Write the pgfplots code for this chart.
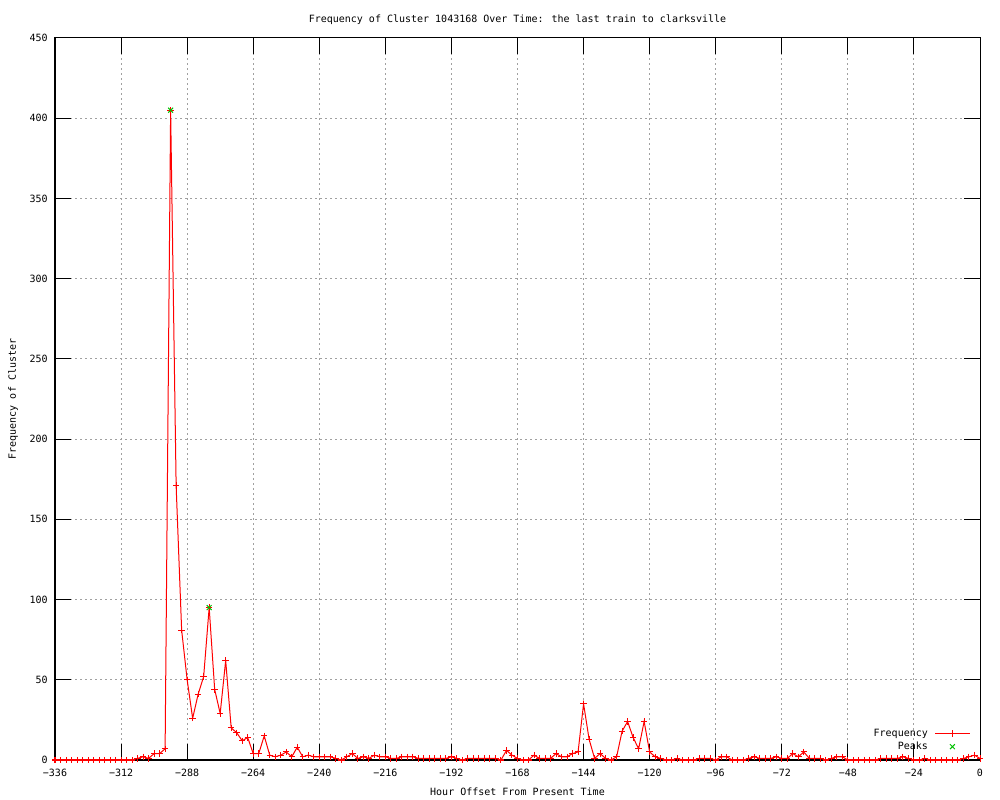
\documentclass[border=0pt]{standalone}
\usepackage{fontspec}
\setmainfont{DejaVu Sans Mono}
\usepackage{pgfplots}
\pgfplotsset{compat=1.18}
\definecolor{gridgray}{HTML}{A0A0A0}
\definecolor{peakgreen}{HTML}{00C000}
\begin{document}
\begin{tikzpicture}
\path[use as bounding box] (0,0) rectangle (750pt,600pt);
\begin{axis}[
  at={(41.25pt,30pt)}, anchor=south west,
  scale only axis, width=693.75pt, height=541.5pt,
  xmin=-336, xmax=0, ymin=0, ymax=450,
  xtick={-336,-312,-288,-264,-240,-216,-192,-168,-144,-120,-96,-72,-48,-24,0},
  xticklabels={−336,−312,−288,−264,−240,−216,−192,−168,−144,−120,−96,−72,−48,−24,0},
  ytick={0,50,100,150,200,250,300,350,400,450},
  yticklabels={0,50,100,150,200,250,300,350,400,450},
  xtick pos=both, ytick pos=both,
  tick align=inside, major tick length=12pt,
  tick style={black, line width=0.75pt},
  axis line style={black, line width=0.75pt},
  grid=major,
  grid style={gridgray, line width=0.75pt, dash pattern=on 1.5pt off 2.25pt},
  font=\fontsize{7.5pt}{9pt}\selectfont,
  xticklabel style={anchor=center, inner sep=0pt, yshift=-9.75pt},
  yticklabel style={anchor=east, inner sep=0pt, xshift=-5.25pt},
  title={Frequency of Cluster 1043168 Over Time: the last train to clarksville},
  title style={at={(axis description cs:0.5,1.0139)}, anchor=center, inner sep=0pt, yshift=0pt},
  xlabel={Hour Offset From Present Time},
  xlabel style={at={(axis description cs:0.5,-0.0443)}, anchor=center, inner sep=0pt},
  ylabel={Frequency of Cluster},
  ylabel style={at={(axis description cs:-0.0454,0.5)}, anchor=center, inner sep=0pt},
  legend plot pos=right,
  legend cell align=right,
  legend style={draw=none, fill=none, at={(axis description cs:1,0)}, anchor=south east,
    xshift=-7.5pt, yshift=6.5pt, inner sep=0pt, outer sep=0pt, row sep=2.75pt, column sep=5.25pt,
    nodes={inner sep=0pt, text height=5.5pt, text depth=1.5pt},
    font=\fontsize{7.5pt}{9pt}\selectfont},
]
\addplot[red, line width=0.75pt, mark=+, mark size=2.4pt,
  legend image code/.code={\draw[mark repeat=2, mark phase=2] plot coordinates {(0cm,0cm) (0.45cm,0cm) (0.9cm,0cm)};}]
coordinates {
(-336,0)(-334,0)(-332,0)(-330,0)(-328,0)(-326,0)(-324,0)(-322,0)(-320,0)(-318,0)
(-316,0)(-314,0)(-312,0)(-310,0)(-308,0)(-306,1)(-304,2)(-302,1)(-300,4)(-298,4)
(-296,7)(-294,405)(-292,171)(-290,81)(-288,50)(-286,26)(-284,41)(-282,52)(-280,95)(-278,44)
(-276,29)(-274,62)(-272,20)(-270,17)(-268,12)(-266,14)(-264,4)(-262,4)(-260,15)(-258,3)
(-256,2)(-254,3)(-252,5)(-250,2)(-248,8)(-246,2)(-244,3)(-242,2)(-240,2)(-238,2)
(-236,2)(-234,1)(-232,0)(-230,2)(-228,4)(-226,1)(-224,2)(-222,1)(-220,3)(-218,2)
(-216,2)(-214,1)(-212,1)(-210,2)(-208,2)(-206,2)(-204,1)(-202,1)(-200,1)(-198,1)
(-196,1)(-194,1)(-192,2)(-190,1)(-188,0)(-186,1)(-184,1)(-182,1)(-180,1)(-178,1)
(-176,1)(-174,0)(-172,6)(-170,3)(-168,1)(-166,0)(-164,0)(-162,3)(-160,1)(-158,1)
(-156,1)(-154,4)(-152,2)(-150,2)(-148,4)(-146,5)(-144,35)(-142,13)(-140,1)(-138,4)
(-136,1)(-134,0)(-132,2)(-130,18)(-128,24)(-126,14)(-124,7)(-122,24)(-120,5)(-118,2)
(-116,1)(-114,0)(-112,0)(-110,1)(-108,0)(-106,0)(-104,0)(-102,1)(-100,1)(-98,1)
(-96,0)(-94,2)(-92,2)(-90,0)(-88,0)(-86,0)(-84,1)(-82,2)(-80,1)(-78,1)
(-76,1)(-74,2)(-72,1)(-70,1)(-68,4)(-66,2)(-64,5)(-62,1)(-60,1)(-58,1)
(-56,0)(-54,1)(-52,2)(-50,2)(-48,0)(-46,0)(-44,0)(-42,0)(-40,0)(-38,0)
(-36,1)(-34,1)(-32,1)(-30,1)(-28,2)(-26,1)(-24,0)(-22,0)(-20,1)(-18,0)
(-16,0)(-14,0)(-12,0)(-10,0)(-8,0)(-6,1)(-4,2)(-2,3)(0,1)
};
\addlegendentry{Frequency}
\addplot[peakgreen, only marks, mark=x, mark size=2.6pt, line width=0.75pt,
  legend image code/.code={\draw plot coordinates {(0.45cm,0cm)};}]
coordinates {(-294,405)(-280,95)};
\addlegendentry{Peaks}
\end{axis}
\end{tikzpicture}
\end{document}
